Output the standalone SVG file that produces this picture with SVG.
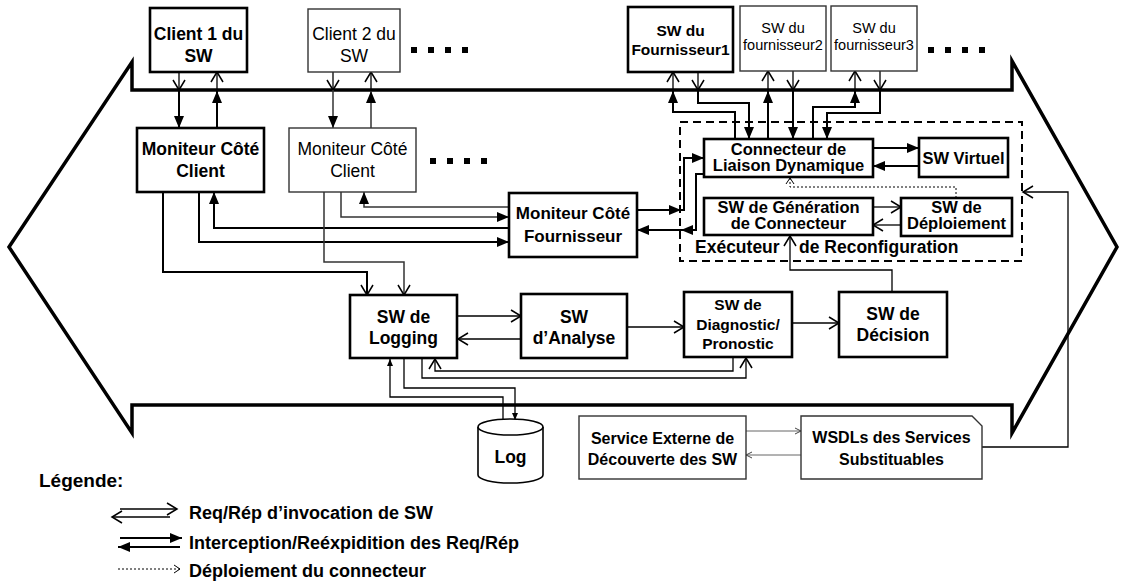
<svg xmlns="http://www.w3.org/2000/svg" width="1125" height="582" viewBox="0 0 1125 582">
<style>
.bx{fill:#fff;stroke:#000;stroke-width:2.6}
.tx{fill:#fff;stroke:#333;stroke-width:1.4}
text{font-family:"Liberation Sans",Arial,sans-serif;font-weight:bold;text-anchor:middle;fill:#000}
.n{font-weight:normal}
.s{text-anchor:start}
.k{fill:none;stroke:#000;stroke-width:2}
.kg{fill:none;stroke:#333;stroke-width:1.5}
.r{fill:none;stroke:#000;stroke-width:1.3}
.rg{fill:none;stroke:#666;stroke-width:1}
.d{fill:none;stroke:#000;stroke-width:1;stroke-dasharray:2,2}
.dot{fill:#000}
</style>
<defs>
<marker id="mf" viewBox="0 0 12 10" refX="12" refY="5" markerWidth="12" markerHeight="10" markerUnits="userSpaceOnUse" orient="auto" overflow="visible"><path d="M0,0 L12,5 L0,10 Z" fill="#000"/></marker>
<marker id="mo" viewBox="0 0 10 12" refX="10" refY="6" markerWidth="10" markerHeight="12" markerUnits="userSpaceOnUse" orient="auto" overflow="visible"><path d="M0,0 L10,6 L0,12" fill="none" stroke="#000" stroke-width="1.5"/></marker>
<marker id="ms" viewBox="0 0 7 6" refX="7" refY="3" markerWidth="7" markerHeight="6" markerUnits="userSpaceOnUse" orient="auto" overflow="visible"><path d="M0,0 L7,3 L0,6 Z" fill="#000"/></marker>
<marker id="md" viewBox="0 0 6 8" refX="6" refY="4" markerWidth="6" markerHeight="8" markerUnits="userSpaceOnUse" orient="auto" overflow="visible"><path d="M0,0 L6,4 L0,8" fill="none" stroke="#000" stroke-width="1"/></marker>
<marker id="mg" viewBox="0 0 6 6" refX="6" refY="3" markerWidth="6" markerHeight="6" markerUnits="userSpaceOnUse" orient="auto" overflow="visible"><path d="M0,0 L6,3 L0,6" fill="none" stroke="#444" stroke-width="1"/></marker>
</defs>

<!-- big double arrow -->
<path id="frame" d="M9,247 L132,62 L132,90 L1012,90 L1012,61 L1117,247 L1012,433 L1012,405 L132,405 L132,433 Z" fill="none" stroke="#000" stroke-width="3.5" stroke-linejoin="miter"/>

<!-- dashed reconfiguration executor -->
<g id="executeur">
<rect x="680" y="122" width="342" height="139" fill="none" stroke="#000" stroke-width="2" stroke-dasharray="8,5"/>
<text class="s" x="695" y="253" font-size="17.5"><tspan x="695">Exécuteur </tspan><tspan x="799">de Reconfiguration</tspan></text>
</g>

<g id="connectors">
<!-- client 1 -->
<path class="r" d="M179,72 V90" marker-end="url(#mo)"/>
<path class="k" d="M179,90 V128" marker-end="url(#mf)"/>
<path class="k" d="M217,128 V91" marker-end="url(#mf)"/>
<path class="r" d="M217,90 V72" marker-end="url(#mo)"/>
<!-- client 2 -->
<path class="r" d="M333,72 V90" marker-end="url(#mo)"/>
<path class="kg" d="M333,90 V128" marker-end="url(#mf)"/>
<path class="kg" d="M371,128 V91" marker-end="url(#mf)"/>
<path class="r" d="M371,90 V72" marker-end="url(#mo)"/>
<!-- MCC1 -->
<path class="k" d="M163,192 V272 H367 V295" marker-end="url(#mo)"/>
<path class="k" d="M199,192 V242 H509" marker-end="url(#mf)"/>
<path class="k" d="M509,228 H214 V192" marker-end="url(#mf)"/>
<!-- MCC2 -->
<path class="kg" d="M324,192 V262 H404 V295" marker-end="url(#mo)"/>
<path class="kg" d="M341,192 V217 H509" marker-end="url(#mf)"/>
<path class="kg" d="M509,207 H364 V192" marker-end="url(#mf)"/>
<!-- MF <-> CLD -->
<path class="k" d="M637,210 H681" marker-end="url(#mf)"/>
<path class="k" d="M681,210 H684 V158 H704" marker-end="url(#mf)"/>
<path class="k" d="M704,174 H696 V230 H681" marker-end="url(#mf)"/>
<path class="k" d="M681,230 H637" marker-end="url(#mf)"/>
<!-- providers -->
<path class="k" d="M735,139 V112 H673 V91" marker-end="url(#mf)"/>
<path class="r" d="M673,90 V72" marker-end="url(#mo)"/>
<path class="r" d="M698,72 V90" marker-end="url(#mo)"/>
<path class="k" d="M698,90 V103 H749 V139" marker-end="url(#mf)"/>
<path class="k" d="M768,139 V91" marker-end="url(#mf)"/>
<path class="r" d="M768,90 V71" marker-end="url(#mo)"/>
<path class="r" d="M793,71 V90" marker-end="url(#mo)"/>
<path class="k" d="M793,90 V139" marker-end="url(#mf)"/>
<path class="k" d="M813,139 V107 H855 V91" marker-end="url(#mf)"/>
<path class="r" d="M855,90 V71" marker-end="url(#mo)"/>
<path class="r" d="M880,71 V90" marker-end="url(#mo)"/>
<path class="k" d="M880,90 V113 H827 V139" marker-end="url(#mf)"/>
<!-- CLD <-> SW Virtuel -->
<path class="k" d="M873,148 H919" marker-end="url(#mf)"/>
<path class="k" d="M919,166 H873" marker-end="url(#mf)"/>
<!-- Gen <-> Dep -->
<path class="r" d="M873,207 H901" marker-end="url(#mo)"/>
<path class="r" d="M901,225 H873" marker-end="url(#mo)"/>
<!-- deployment dotted -->
<path class="d" d="M956,198 V187 H790 V178" marker-end="url(#md)"/>
<!-- decision -> gen -->
<path class="r" d="M892,292 V270 H790 V236" marker-end="url(#mo)"/>
<!-- WSDL -> executor -->
<path class="r" d="M982,447 H1068 V192 H1023" marker-end="url(#mo)"/>
<!-- analysis chain -->
<path class="r" d="M457,316 H521" marker-end="url(#mo)"/>
<path class="r" d="M521,339 H458" marker-end="url(#mo)"/>
<path class="r" d="M628,327 H684" marker-end="url(#mo)"/>
<path class="r" d="M792,323 H839" marker-end="url(#mo)"/>
<path class="r" d="M733,357 V371 H435 V359" marker-end="url(#mo)"/>
<path class="r" d="M422,358 V378 H746 V358" marker-end="url(#mo)"/>
<!-- log -->
<path class="r" d="M503,420 V397 H390 V359" marker-end="url(#ms)"/>
<path class="r" d="M404,358 V388 H515 V420" marker-end="url(#ms)"/>
<!-- service <-> wsdl -->
<path class="rg" d="M746,431 H801" marker-end="url(#mg)"/>
<path class="rg" d="M801,455 H746" marker-end="url(#mg)"/>
</g>

<g id="client1"><rect class="bx" x="150" y="8" width="97" height="64"/><text x="198.5" y="40" font-size="17.5">Client 1 du</text><text x="198.5" y="62" font-size="17.5">SW</text></g>
<g id="client2"><rect class="tx" x="308" y="9" width="92" height="63"/><text class="n" x="354" y="40" font-size="17.5">Client 2 du</text><text class="n" x="354" y="62" font-size="17.5">SW</text></g>
<g id="dots1"><rect class="dot" x="411" y="47" width="6" height="6"/><rect class="dot" x="428" y="47" width="6" height="6"/><rect class="dot" x="445" y="47" width="6" height="6"/><rect class="dot" x="462" y="47" width="6" height="6"/></g>
<g id="mcc1"><rect class="bx" x="137" y="128" width="127" height="64"/><text x="200.5" y="155" font-size="17.5">Moniteur Côté</text><text x="200.5" y="177" font-size="17.5">Client</text></g>
<g id="mcc2"><rect class="tx" x="289" y="128" width="127" height="64"/><text class="n" x="352.5" y="155" font-size="17.5">Moniteur Côté</text><text class="n" x="352.5" y="177" font-size="17.5">Client</text></g>
<g id="dots2"><rect class="dot" x="430" y="158" width="6" height="6"/><rect class="dot" x="447" y="158" width="6" height="6"/><rect class="dot" x="464" y="158" width="6" height="6"/><rect class="dot" x="481" y="158" width="6" height="6"/></g>
<g id="mf-node"><rect class="bx" x="509" y="193" width="128" height="64"/><text x="573" y="219" font-size="17">Moniteur Côté</text><text x="573" y="242" font-size="17">Fournisseur</text></g>
<g id="f1"><rect class="bx" x="628" y="7" width="105" height="65"/><text x="680.5" y="36" font-size="15.5">SW du</text><text x="680.5" y="55" font-size="15.5">Fournisseur1</text></g>
<g id="f2"><rect class="tx" x="740" y="6" width="86" height="65"/><text class="n" x="783" y="33" font-size="14.5">SW du</text><text class="n" x="783" y="50" font-size="14.5">fournisseur2</text></g>
<g id="f3"><rect class="tx" x="831" y="6" width="86" height="65"/><text class="n" x="874" y="33" font-size="14.5">SW du</text><text class="n" x="874" y="50" font-size="14.5">fournisseur3</text></g>
<g id="dots3"><rect class="dot" x="928" y="47" width="6" height="6"/><rect class="dot" x="945" y="47" width="6" height="6"/><rect class="dot" x="962" y="47" width="6" height="6"/><rect class="dot" x="979" y="47" width="6" height="6"/></g>
<g id="cld"><rect class="bx" x="704" y="139" width="169" height="38"/><text x="788.5" y="155" font-size="16.5">Connecteur de</text><text x="788.5" y="171" font-size="16.5">Liaison Dynamique</text></g>
<g id="swv"><rect class="bx" x="919" y="138" width="89" height="39"/><text x="963.5" y="164" font-size="16.5">SW Virtuel</text></g>
<g id="gen"><rect class="bx" x="704" y="198" width="169" height="37"/><text x="788.5" y="213" font-size="16.5">SW de Génération</text><text x="788.5" y="229" font-size="16.5">de Connecteur</text></g>
<g id="dep"><rect class="bx" x="901" y="198" width="111" height="38"/><text x="956.5" y="213" font-size="16.5">SW de</text><text x="956.5" y="229" font-size="16.5">Déploiement</text></g>
<g id="logging"><rect class="bx" x="350" y="295" width="107" height="63"/><text x="403.5" y="323" font-size="17.5">SW de</text><text x="403.5" y="344" font-size="17.5">Logging</text></g>
<g id="analyse"><rect class="bx" x="521" y="294" width="106" height="64"/><text x="574" y="323" font-size="17.5">SW</text><text x="574" y="344" font-size="17.5">d’Analyse</text></g>
<g id="diag"><rect class="bx" x="684" y="292" width="108" height="65"/><text x="738" y="310" font-size="15.5">SW de</text><text x="738" y="330" font-size="15.5">Diagnostic/</text><text x="738" y="349" font-size="15.5">Pronostic</text></g>
<g id="decision"><rect class="bx" x="839" y="292" width="108" height="65"/><text x="893" y="320" font-size="17.5">SW de</text><text x="893" y="341" font-size="17.5">Décision</text></g>
<g id="log"><path d="M478,427 V475 A32.5,8 0 0 0 543,475 V427" fill="#fff" stroke="#000" stroke-width="1.6"/><ellipse cx="510.5" cy="427" rx="32.5" ry="8" fill="#fff" stroke="#000" stroke-width="1.6"/><text x="510.5" y="463" font-size="17.5">Log</text></g>
<g id="service"><rect class="tx" x="579" y="416" width="167" height="63"/><text x="662.5" y="444" font-size="16">Service Externe de</text><text x="662.5" y="465" font-size="16">Découverte des SW</text></g>
<g id="wsdl"><path class="tx" d="M801,416 H972 L982,426 V479 H801 Z"/><text x="891.5" y="443" font-size="16">WSDLs des Services</text><text x="891.5" y="465" font-size="16">Substituables</text></g>

<g id="legend">
<text class="s" x="39" y="487" font-size="19">Légende:</text>
<path class="r" d="M120,509 H177" marker-end="url(#mo)"/>
<path class="r" d="M170,517 H112" marker-end="url(#mo)"/>
<text class="s" x="189" y="519" font-size="18">Req/Rép d’invocation de SW</text>
<path class="k" d="M120,538 H182" marker-end="url(#mf)"/>
<path class="k" d="M180,547 H118" marker-end="url(#mf)"/>
<text class="s" x="189" y="549" font-size="18">Interception/Reéxpidition des Req/Rép</text>
<path class="d" d="M118,569 H180" marker-end="url(#md)"/>
<text class="s" x="189" y="577" font-size="18">Déploiement du connecteur</text>
</g>
</svg>
